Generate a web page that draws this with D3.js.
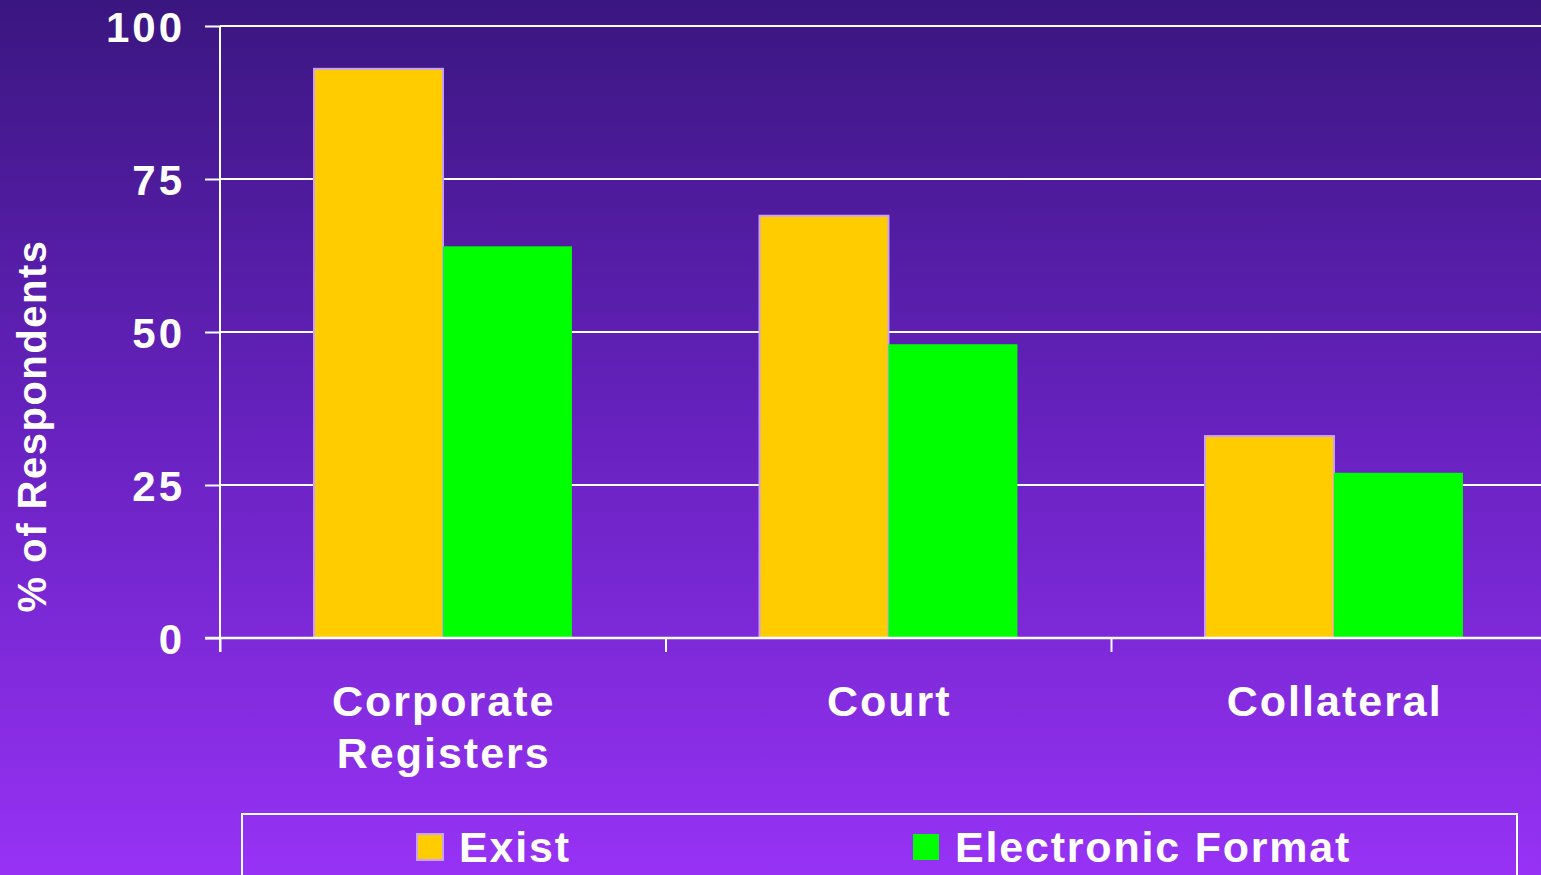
<!DOCTYPE html>
<html><head><meta charset="utf-8">
<script src="https://cdn.jsdelivr.net/npm/d3@7"></script>
<style>html,body{margin:0;padding:0;overflow:hidden;}svg{display:block;}</style>
</head><body>
<script>
const categories = [["Corporate","Registers"],["Court"],["Collateral"]];
const seriesNames = ["Exist","Electronic Format"];
const existValues = [93, 69, 33];
const electronicValues = [64, 48, 27];
const yTicks = [0, 25, 50, 75, 100];

(function(){
const W = 1541, H = 875;
const svg = d3.select("body").append("svg").attr("width", W).attr("height", H);
const defs = svg.append("defs");
const grad = defs.append("linearGradient").attr("id","bg").attr("x1",0).attr("y1",0).attr("x2",0).attr("y2",1);
grad.append("stop").attr("offset","0%").attr("stop-color","#3a1680");
grad.append("stop").attr("offset","50%").attr("stop-color","#6822c0");
grad.append("stop").attr("offset","100%").attr("stop-color","#9732f5");
svg.append("rect").attr("width",W).attr("height",H).attr("fill","url(#bg)");

const font = "'Liberation Sans', Arial, sans-serif";
const pLeft = 220, pRight = 1556.5, pTop = 26, pBottom = 638;
const y = d3.scaleLinear().domain([0,100]).range([pBottom, pTop]);
const x0 = d3.scaleBand().domain(d3.range(categories.length)).range([pLeft, pRight]).padding(0);
const bw = x0.bandwidth();
const x1 = d3.scaleBand().domain(d3.range(seriesNames.length)).range([bw*0.211, bw*0.79]).padding(0);
const colors = ["#ffcc00", "#00ff00"];
const strokes = ["#c9a0f5", "none"];

// gridlines
svg.append("g").selectAll("line").data(yTicks.filter(d=>d>0)).join("line")
  .attr("x1", pLeft).attr("x2", W).attr("y1", d=>y(d)).attr("y2", d=>y(d))
  .attr("stroke","#fff").attr("stroke-width",2);

// bars
const data = categories.map((c,i)=>[existValues[i], electronicValues[i]]);
const groups = svg.append("g").selectAll("g").data(data).join("g")
  .attr("transform",(d,i)=>`translate(${x0(i)},0)`);
groups.selectAll("rect").data(d=>d.map((v,j)=>({v,j}))).join("rect")
  .attr("x", d=>x1(d.j)).attr("width", x1.bandwidth())
  .attr("y", d=>y(d.v)).attr("height", d=>pBottom - y(d.v))
  .attr("fill", d=>colors[d.j])
  .attr("stroke", d=>strokes[d.j]).attr("stroke-width",2);

// y axis
const yAxis = d3.axisLeft(y).tickValues(yTicks).tickSize(15).tickPadding(20);
const ya = svg.append("g").attr("transform",`translate(${pLeft},0)`).call(yAxis);
ya.select(".domain").remove();
ya.selectAll(".tick line").attr("stroke","#fff").attr("stroke-width",2);
ya.selectAll(".tick text").attr("fill","#fff").attr("font-family",font).attr("font-weight","bold")
  .attr("font-size","42px").attr("dy","0.36em").attr("letter-spacing","3px");
svg.append("line").attr("x1",pLeft).attr("x2",pLeft).attr("y1",pTop).attr("y2",pBottom+14).attr("stroke","#fff").attr("stroke-width",2);

// x axis baseline and ticks
const xa = d3.axisBottom(d3.scaleLinear().domain([0,3]).range([pLeft,pRight])).tickValues([0,1,2,3]).tickSize(14).tickFormat("");
const xg = svg.append("g").attr("transform",`translate(0,${pBottom})`).call(xa);
xg.select(".domain").remove();
xg.selectAll(".tick line").attr("stroke","#fff").attr("stroke-width",2);
svg.append("line").attr("x1",pLeft-15).attr("x2",W).attr("y1",pBottom).attr("y2",pBottom).attr("stroke","#fff").attr("stroke-width",2.5);

// category labels
categories.forEach((lines,i)=>{
  const t = svg.append("text").attr("x", x0(i)+bw/2).attr("y",716)
    .attr("text-anchor","middle").attr("fill","#fff").attr("font-family",font)
    .attr("font-weight","bold").attr("font-size","43px").attr("letter-spacing","2px");
  lines.forEach((l,k)=>t.append("tspan").attr("x", x0(i)+bw/2+1).attr("dy", k===0?0:52).text(l));
});

// y title
svg.append("text").attr("transform","translate(46,426) rotate(-90)")
  .attr("text-anchor","middle").attr("fill","#fff").attr("font-family",font)
  .attr("font-weight","bold").attr("font-size","40px").attr("letter-spacing","1.5px").text("% of Respondents");

// legend
svg.append("rect").attr("x",242).attr("y",814).attr("width",1275).attr("height",80)
  .attr("fill","none").attr("stroke","#fff").attr("stroke-width",2);
const legX = [417, 913];
seriesNames.forEach((n,j)=>{
  svg.append("rect").attr("x",legX[j]).attr("y",834).attr("width",26).attr("height",26)
    .attr("fill",colors[j]).attr("stroke", j===0?"#c9a0f5":"none").attr("stroke-width",2);
  svg.append("text").attr("x",legX[j]+42).attr("y",862).attr("fill","#fff")
    .attr("font-family",font).attr("font-weight","bold").attr("font-size","43px")
    .attr("letter-spacing","1.8px").text(n);
});
})();
</script>
</body></html>
